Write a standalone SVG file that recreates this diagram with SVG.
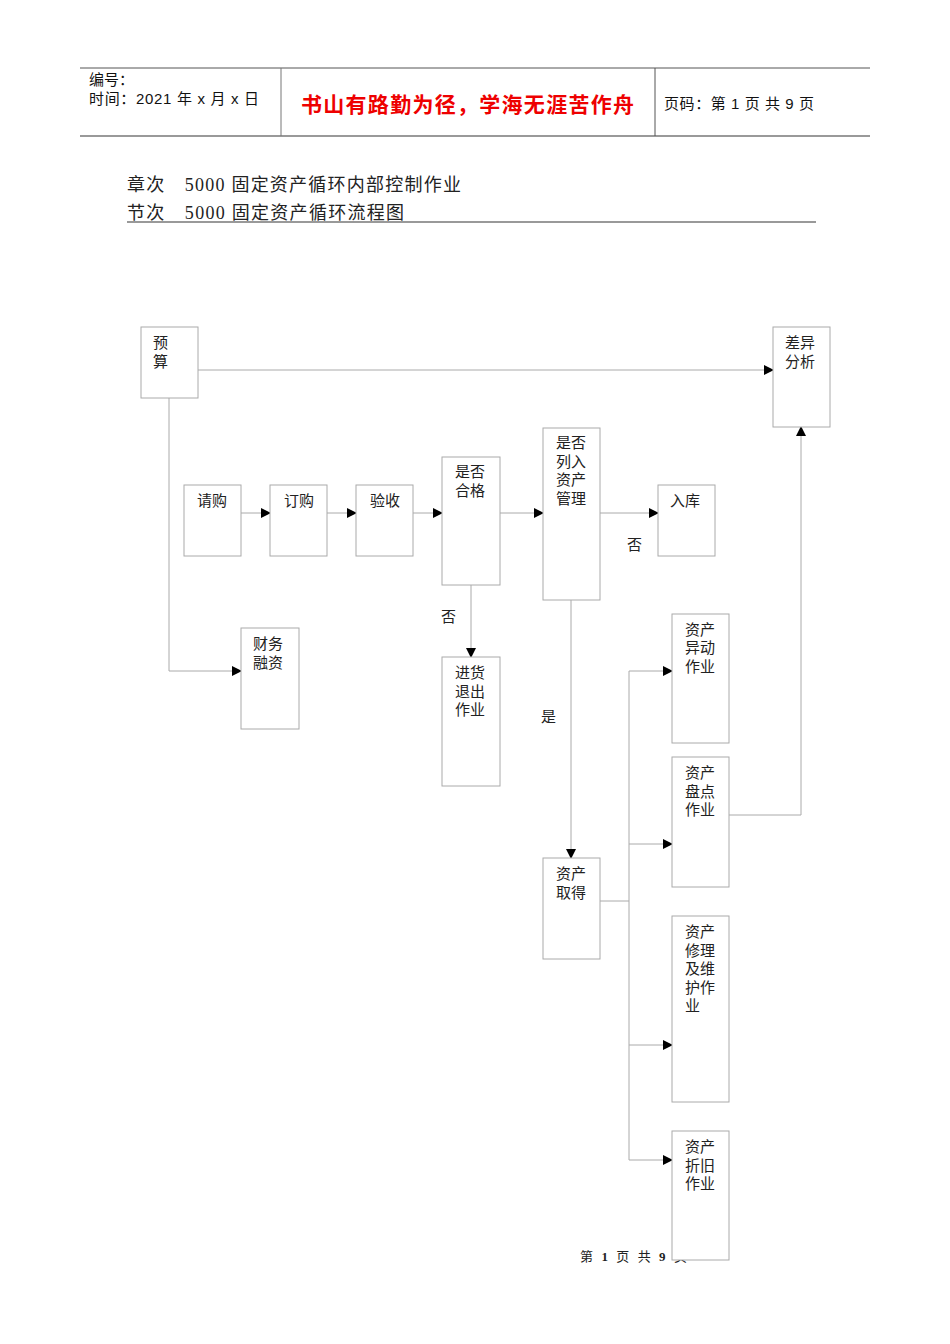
<svg xmlns="http://www.w3.org/2000/svg" width="950" height="1344" viewBox="0 0 950 1344">
<style>
text{font-family:"Liberation Serif","Noto Sans CJK SC",serif;fill:#222}
.h{font-family:"Liberation Sans","Noto Sans CJK SC",sans-serif;font-size:15px;fill:#111}
.n rect{fill:#fff;stroke:#aaa;stroke-width:1}
.n text{font-size:15px}
.c line,.c polyline{stroke:#aaa;stroke-width:1;fill:none}
.lbl{font-size:15px}
</style>
<defs><marker id="a" markerWidth="10" markerHeight="10" refX="9" refY="5" orient="auto" markerUnits="userSpaceOnUse"><path d="M0,0 L10,5 L0,10 Z" fill="#000"/></marker></defs>
<rect width="950" height="1344" fill="#fff"/>
<g id="header">
<line x1="80" y1="68" x2="870" y2="68" stroke="#555"/>
<line x1="80" y1="136" x2="870" y2="136" stroke="#777" stroke-width="1.5"/>
<line x1="281" y1="68" x2="281" y2="136" stroke="#777"/>
<line x1="655" y1="68" x2="655" y2="136" stroke="#555"/>
<text class="h" x="89" y="85">编号：</text>
<text class="h" x="89" y="104" textLength="170">时间：2021 年 x 月 x 日</text>
<text x="301" y="112" textLength="333" style="font-family:'Noto Sans CJK SC',sans-serif;font-size:21px;font-weight:bold;fill:#e00">书山有路勤为径，学海无涯苦作舟</text>
<text class="h" x="664" y="109" textLength="150">页码：第 1 页  共 9 页</text>
<text x="127" y="191" style="font-size:18px" textLength="334">章次　5000  固定资产循环内部控制作业</text>
<text x="127" y="219" style="font-size:18px" textLength="277">节次　5000  固定资产循环流程图</text>
<line x1="127" y1="222" x2="816" y2="222" stroke="#777" stroke-width="1.5"/>
</g>
<text x="580" y="1261" style="font-size:13px" textLength="107">第 <tspan font-weight="bold">1</tspan> 页 共 <tspan font-weight="bold">9</tspan> 页</text>
<g class="c" id="connectors">
<line x1="198" y1="370" x2="773" y2="370" marker-end="url(#a)"/>
<polyline points="169,398 169,671 241,671" marker-end="url(#a)"/>
<line x1="241" y1="513" x2="270" y2="513" marker-end="url(#a)"/>
<line x1="327" y1="513" x2="356" y2="513" marker-end="url(#a)"/>
<line x1="413" y1="513" x2="442" y2="513" marker-end="url(#a)"/>
<line x1="500" y1="513" x2="543" y2="513" marker-end="url(#a)"/>
<line x1="600" y1="513" x2="658" y2="513" marker-end="url(#a)"/>
<line x1="471" y1="585" x2="471" y2="657" marker-end="url(#a)"/>
<line x1="571" y1="600" x2="571" y2="858" marker-end="url(#a)"/>
<polyline points="600,901 629,901"/>
<line x1="629" y1="671" x2="629" y2="1160"/>
<line x1="629" y1="671" x2="672" y2="671" marker-end="url(#a)"/>
<line x1="629" y1="844" x2="672" y2="844" marker-end="url(#a)"/>
<line x1="629" y1="1045" x2="672" y2="1045" marker-end="url(#a)"/>
<line x1="629" y1="1160" x2="672" y2="1160" marker-end="url(#a)"/>
<polyline points="729,815 801,815 801,427" marker-end="url(#a)"/>
<text class="lbl" x="627" y="550">否</text>
<text class="lbl" x="441" y="622">否</text>
<text class="lbl" x="541" y="722">是</text>
</g>
<g class="n" id="n-yusuan"><rect x="141" y="327" width="57" height="71"/><text x="153" y="348">预</text><text x="153" y="367">算</text></g>
<g class="n" id="n-chayi"><rect x="773" y="327" width="57" height="100"/><text x="785" y="348">差异</text><text x="785" y="367">分析</text></g>
<g class="n" id="n-qinggou"><rect x="184" y="485" width="57" height="71"/><text x="197" y="506">请购</text></g>
<g class="n" id="n-dinggou"><rect x="270" y="485" width="57" height="71"/><text x="284" y="506">订购</text></g>
<g class="n" id="n-yanshou"><rect x="356" y="485" width="57" height="71"/><text x="370" y="506">验收</text></g>
<g class="n" id="n-hege"><rect x="442" y="457" width="58" height="128"/><text x="455" y="477">是否</text><text x="455" y="496">合格</text></g>
<g class="n" id="n-lieru"><rect x="543" y="428" width="57" height="172"/><text x="556" y="448">是否</text><text x="556" y="467">列入</text><text x="556" y="485">资产</text><text x="556" y="504">管理</text></g>
<g class="n" id="n-ruku"><rect x="658" y="485" width="57" height="71"/><text x="670" y="506">入库</text></g>
<g class="n" id="n-caiwu"><rect x="241" y="628" width="58" height="101"/><text x="253" y="649">财务</text><text x="253" y="668">融资</text></g>
<g class="n" id="n-tuichu"><rect x="442" y="657" width="58" height="129"/><text x="455" y="678">进货</text><text x="455" y="697">退出</text><text x="455" y="715">作业</text></g>
<g class="n" id="n-qude"><rect x="543" y="858" width="57" height="101"/><text x="556" y="879">资产</text><text x="556" y="898">取得</text></g>
<g class="n" id="n-yidong"><rect x="672" y="614" width="57" height="129"/><text x="685" y="635">资产</text><text x="685" y="653">异动</text><text x="685" y="672">作业</text></g>
<g class="n" id="n-pandian"><rect x="672" y="757" width="57" height="130"/><text x="685" y="778">资产</text><text x="685" y="797">盘点</text><text x="685" y="815">作业</text></g>
<g class="n" id="n-xiuli"><rect x="672" y="916" width="57" height="186"/><text x="685" y="937">资产</text><text x="685" y="956">修理</text><text x="685" y="974">及维</text><text x="685" y="993">护作</text><text x="685" y="1011">业</text></g>
<g class="n" id="n-zhejiu"><rect x="672" y="1131" width="57" height="129"/><text x="685" y="1152">资产</text><text x="685" y="1171">折旧</text><text x="685" y="1189">作业</text></g>
</svg>
